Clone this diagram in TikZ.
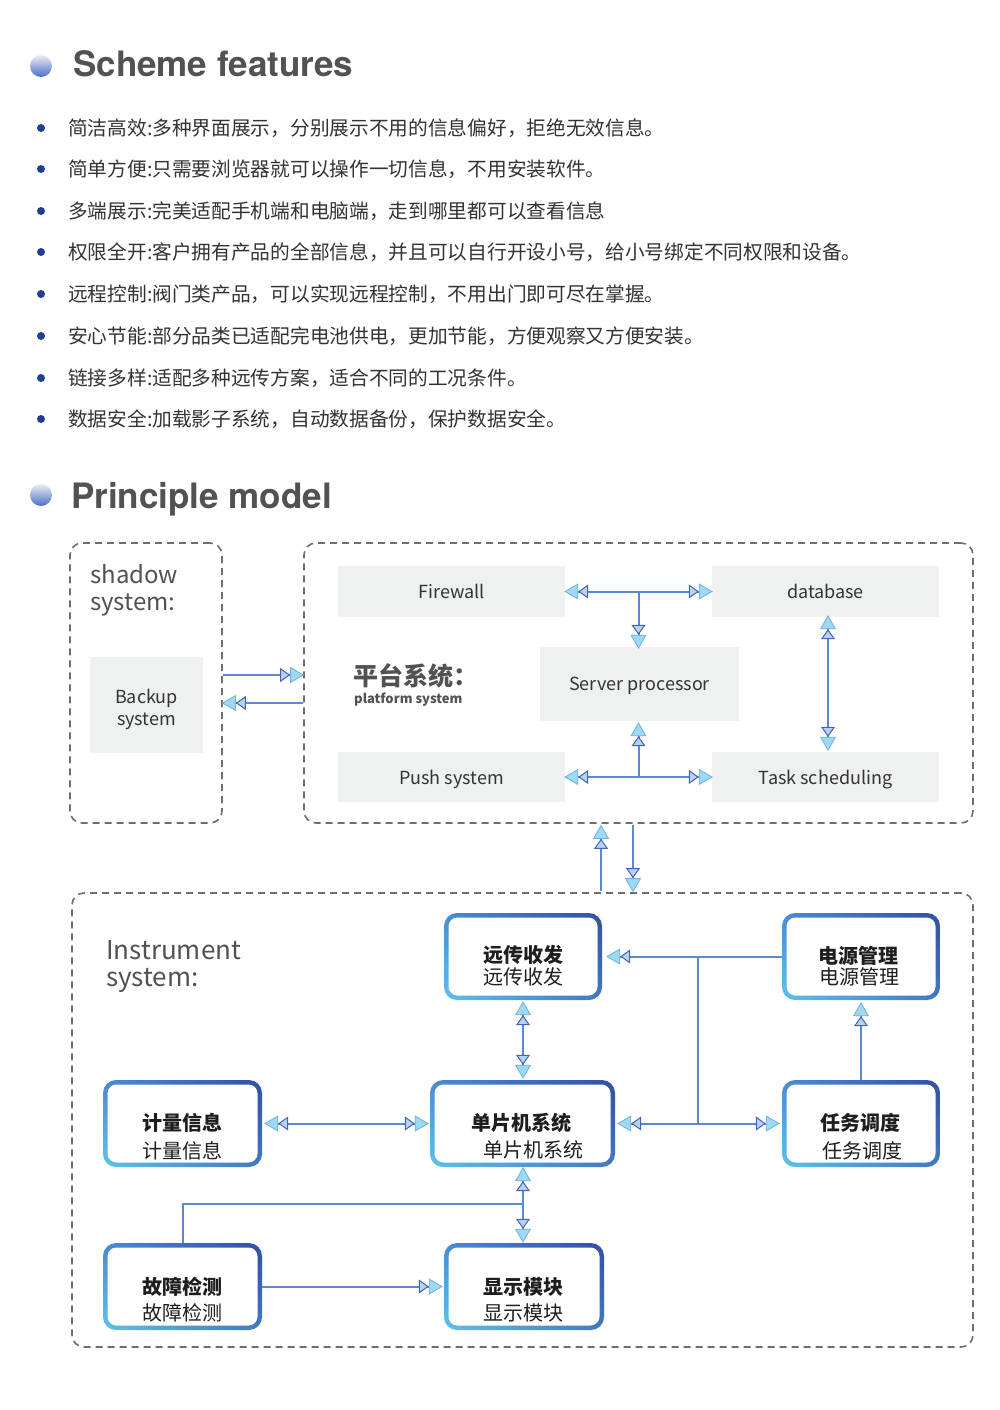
\documentclass[tikz,border=0pt]{standalone}
\usepackage{fontspec}
\setmainfont{Noto Sans CJK SC}
\newfontfamily\heros{TeX Gyre Heros}
\usetikzlibrary{arrows.meta,calc,shadings}

\definecolor{dashgray}{HTML}{6E6E6E}
\definecolor{boxgray}{HTML}{EFF0F0}
\definecolor{txt}{HTML}{333333}
\definecolor{head}{HTML}{525252}
\definecolor{navy}{HTML}{1F3F8F}
\definecolor{connc}{HTML}{5A8AD2}
\definecolor{tipA}{HTML}{9ED9F2}
\definecolor{tipAd}{HTML}{6FB0E4}
\definecolor{tipB}{HTML}{B5D2F0}
\definecolor{tipBd}{HTML}{4862B6}
\definecolor{bUL}{HTML}{4A8CD0}
\definecolor{bUR}{HTML}{3350A0}
\definecolor{bLL}{HTML}{5CC2EC}
\definecolor{bLR}{HTML}{4278C4}
\definecolor{ballblue}{HTML}{4A6FC6}
\definecolor{balltop}{HTML}{EDEDF2}

\tikzset{
  dtri/.tip={Triangle[length=10pt,width=14pt,fill=tipB,color=tipBd,line width=1pt,sep=0pt] Triangle[length=14pt,width=16pt,fill=tipA,color=tipAd,line width=0.8pt,sep=-3pt]},
  conn/.style={draw=connc, line width=2pt},
  dbox/.style={draw=dashgray, dash pattern=on 7pt off 5pt, line width=1.6pt, rounded corners=12pt, inner sep=0pt},
  gbox/.style={fill=boxgray, inner sep=0pt, text=txt, align=center, font=\fontsize{18}{22}\selectfont},
  gone/.style={gbox, text depth=0pt},
  bbox/.style={fill=white, minimum height=87pt, inner sep=0pt, rounded corners=13pt,
    path picture={
      \shade[upper left=bUL, upper right=bUR, lower left=bLL, lower right=bLR]
        (path picture bounding box.south west) rectangle (path picture bounding box.north east);
      \fill[white, rounded corners=9pt]
        ([shift={(4.5pt,4.5pt)}]path picture bounding box.south west) rectangle
        ([shift={(-4.5pt,-4.5pt)}]path picture bounding box.north east);}},
  btxt/.style={font=\fontsize{20}{22}\selectfont\bfseries, text={rgb,255:red,30;green,30;blue,30}, inner sep=0pt},
  rtxt/.style={font=\fontsize{20}{22}\selectfont, text={rgb,255:red,30;green,30;blue,30}, inner sep=0pt},
  bullettxt/.style={anchor=west, inner sep=0pt, text=txt, font=\fontsize{19.7}{22}\selectfont},
  heading/.style={anchor=base west, inner sep=0pt, text=head, font=\heros\bfseries\fontsize{35}{40}\selectfont},
  lbl/.style={anchor=base west, inner sep=0pt, text=head},
}

\begin{document}
\begin{tikzpicture}[x=1pt,y=-1pt]
\useasboundingbox (0,0) rectangle (1000,1410);
\fill[white] (0,0) rectangle (1000,1410);

% ---------- headings ----------
\shade[top color=balltop, bottom color=ballblue] (41,66) circle (11);
\node[heading] (h1) at (73,77) {Scheme features};
\shade[top color=balltop, bottom color=ballblue] (41,495) circle (11);
\node[heading] (h2) at (71,508) {Principle model};

% ---------- bullet list ----------
\foreach \yy/\tx [count=\i] in {
  128/{简洁高效:多种界面展示，分别展示不用的信息偏好，拒绝无效信息。},
  169/{简单方便:只需要浏览器就可以操作一切信息，不用安装软件。},
  211/{多端展示:完美适配手机端和电脑端，走到哪里都可以查看信息},
  252/{权限全开:客户拥有产品的全部信息，并且可以自行开设小号，给小号绑定不同权限和设备。},
  294/{远程控制:阀门类产品，可以实现远程控制，不用出门即可尽在掌握。},
  336/{安心节能:部分品类已适配完电池供电，更加节能，方便观察又方便安装。},
  378/{链接多样:适配多种远传方案，适合不同的工况条件。},
  419/{数据安全:加载影子系统，自动数据备份，保护数据安全。}} {
  \fill[navy] (41,\yy) circle (4);
  \node[bullettxt] (b\i) at (68,\yy) {\tx};
}

% ---------- containers ----------
\node[dbox, minimum width=152pt, minimum height=280pt] (shadow) at (146,683) {};
\node[dbox, minimum width=669pt, minimum height=280pt] (platform) at (638.5,683) {};
\node[dbox, minimum width=901pt, minimum height=454pt] (instr) at (522.5,1120) {};

\node[lbl, font=\fontsize{24}{27}\selectfont] (sh1) at (90,583) {shadow};
\node[lbl, font=\fontsize{24}{27}\selectfont] (sh2) at (90,610) {system:};
\node[lbl, font=\fontsize{26}{29}\selectfont] (in1) at (106,959) {Instrument};
\node[lbl, font=\fontsize{26}{29}\selectfont] (in2) at (106,986) {system:};
\node[anchor=west, inner sep=0pt, text=head, font=\fontsize{25}{28}\selectfont\bfseries] (pt1) at (353,676) {平台系统：};
\node[lbl, font=\fontsize{13}{15}\selectfont\bfseries] (pt2) at (354,703) {platform system};

% ---------- gray boxes ----------
\fill[boxgray] (90,657) rectangle (203,753);
\node[gbox, fill=none, minimum width=113pt, minimum height=96pt] (backup) at (146.5,709) {Backup\\system};
\node[gone, minimum width=227pt, minimum height=51pt] (fw) at (451.5,591.5) {Firewall};
\node[gone, minimum width=227pt, minimum height=51pt] (db) at (825.5,591.5) {database};
\node[gone, minimum width=199pt, minimum height=74pt] (sp) at (639.5,684) {Server processor};
\node[gone, minimum width=227pt, minimum height=50pt] (push) at (451.5,777) {Push system};
\node[gone, minimum width=227pt, minimum height=50pt] (task) at (825.5,777) {Task scheduling};

% ---------- platform connectors ----------
\draw[conn, {dtri}-{dtri}, shorten <=2pt, shorten >=2pt] (fw.east) -- (db.west);
\coordinate (j1) at ($(fw.east)!0.5!(db.west)$);
\draw[conn, -{dtri}, shorten >=1pt] (j1) -- (j1 |- sp.north);
\draw[conn, {dtri}-{dtri}, shorten <=2pt, shorten >=2pt] (push.east) -- (task.west);
\coordinate (j2) at ($(push.east)!0.5!(task.west)$);
\draw[conn, -{dtri}, shorten >=4pt] (j2) -- (j2 |- sp.south);
\coordinate (dx) at (828,0);
\draw[conn, {dtri}-{dtri}, shorten <=1pt, shorten >=4pt] (dx |- db.south) -- (dx |- task.north);

% shadow <-> platform
\draw[conn, -{dtri}, shorten >=2pt] ([yshift=8pt]shadow.east) -- ([yshift=8pt]platform.west);
\draw[conn, -{dtri}, shorten >=2pt] ([yshift=-20pt]platform.west) -- ([yshift=-20pt]shadow.east);

% platform <-> instrument
\coordinate (pa) at (601,0);
\coordinate (pb) at (633,0);
\draw[conn, -{dtri}, shorten <=1pt, shorten >=4pt] (pa |- instr.north) -- (pa |- platform.south);
\draw[conn, -{dtri}, shorten <=1pt, shorten >=3pt] (pb |- platform.south) -- (pb |- instr.north);

% ---------- blue boxes ----------
\node[bbox, minimum width=158pt] (yc) at (523,956.5) {};
\node[btxt] (yc1) at (523,955) {远传收发};
\node[rtxt] (yc2) at (523,977) {远传收发};

\node[bbox, minimum width=158pt] (pm) at (861,956.5) {};
\node[btxt] (pm1) at (858,956) {电源管理};
\node[rtxt] (pm2) at (859,977) {电源管理};

\node[bbox, minimum width=159pt] (jl) at (182.5,1123.5) {};
\node[btxt] (jl1) at (182,1123) {计量信息};
\node[rtxt] (jl2) at (182,1151) {计量信息};

\node[bbox, minimum width=185pt] (mcu) at (522.5,1123.5) {};
\node[btxt] (mcu1) at (521,1123) {单片机系统};
\node[rtxt] (mcu2) at (533,1150) {单片机系统};

\node[bbox, minimum width=158pt] (task2) at (861,1123.5) {};
\node[btxt] (task21) at (860,1123) {任务调度};
\node[rtxt] (task22) at (862,1151) {任务调度};

\node[bbox, minimum width=159pt] (fault) at (182.5,1286.5) {};
\node[btxt] (fault1) at (182,1287) {故障检测};
\node[rtxt] (fault2) at (182,1313) {故障检测};

\node[bbox, minimum width=160pt] (disp) at (524,1286.5) {};
\node[btxt] (disp1) at (523,1287) {显示模块};
\node[rtxt] (disp2) at (523,1313) {显示模块};

% ---------- instrument connectors ----------
\draw[conn, -{dtri}, shorten >=7pt] (pm.west) -- (yc.east);
\coordinate (j3) at (698,0);
\draw[conn] (j3 |- pm.west) -- (j3 |- mcu.east);
\draw[conn, -{dtri}, shorten >=5pt] (j3 |- mcu.east) -- (mcu.east);
\draw[conn, -{dtri}, shorten >=5pt] (j3 |- mcu.east) -- (task2.west);
\draw[conn, -{dtri}, shorten >=5pt] (task2.north) -- (pm.south);
\draw[conn, {dtri}-{dtri}, shorten <=4pt, shorten >=4pt] (yc.south) -- (yc.south |- mcu.north);
\draw[conn, {dtri}-{dtri}, shorten <=5pt, shorten >=4pt] (jl.east) -- (mcu.west);
\draw[conn, {dtri}-{dtri}, shorten <=3pt, shorten >=3pt] (yc.south |- mcu.south) -- (yc.south |- disp.north);
\coordinate (k) at (0,1204);
\draw[conn] (fault.north) |- (yc.south |- k);
\draw[conn, -{dtri}, shorten >=4pt] (fault.east) -- (disp.west);

\end{tikzpicture}
\end{document}
